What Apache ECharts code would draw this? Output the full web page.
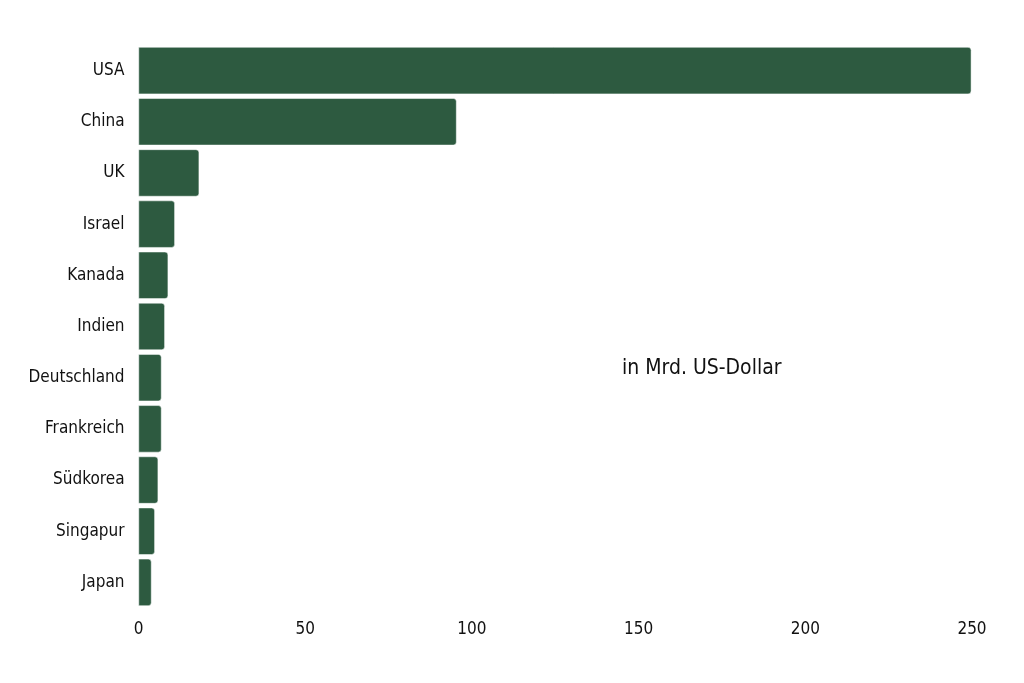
<!DOCTYPE html>
<html><head><meta charset="utf-8">
<script src="https://cdn.jsdelivr.net/npm/echarts@6/dist/echarts.min.js"></script>
<style>html,body{margin:0;padding:0;background:#fff}#c{width:1024px;height:683px}</style>
</head><body><div id="c"></div>
<script>
const categories = ["USA","China","UK","Israel","Kanada","Indien","Deutschland","Frankreich","Südkorea","Singapur","Japan"];
const values = [249.8, 95.4, 18.2, 10.9, 8.9, 7.9, 6.9, 6.9, 5.9, 4.9, 3.9];
const xTicks = [0, 50, 100, 150, 200, 250];
const unitLabel = "in Mrd. US-Dollar";
const FONT = '"Liberation Sans Narrow", "DejaVu Sans Condensed", sans-serif';
const chart = echarts.init(document.getElementById('c'));
chart.setOption({
  animation: false,
  grid: {left: 138.5, right: 52, top: 45, bottom: 75},
  xAxis: {
    type: 'value', min: xTicks[0], max: xTicks[xTicks.length-1], interval: 50,
    axisLine: {show: false}, axisTick: {show: false}, splitLine: {show: false},
    axisLabel: {color: '#111', fontFamily: FONT, fontSize: 17, margin: 13}
  },
  yAxis: {
    type: 'category', data: categories, inverse: true,
    axisLine: {show: false}, axisTick: {show: false},
    axisLabel: {color: '#111', fontFamily: FONT, fontSize: 17, margin: 14}
  },
  series: [{
    type: 'bar', data: values, barCategoryGap: '8%',
    itemStyle: {color: '#2d5a40', borderRadius: [0, 3, 3, 0], borderColor: '#fff', borderWidth: 0.5}
  }],
  graphic: [{
    type: 'text', left: 622, top: 358,
    style: {text: unitLabel, fontFamily: FONT, fontSize: 21, fill: '#111'}
  }]
});
</script></body></html>
